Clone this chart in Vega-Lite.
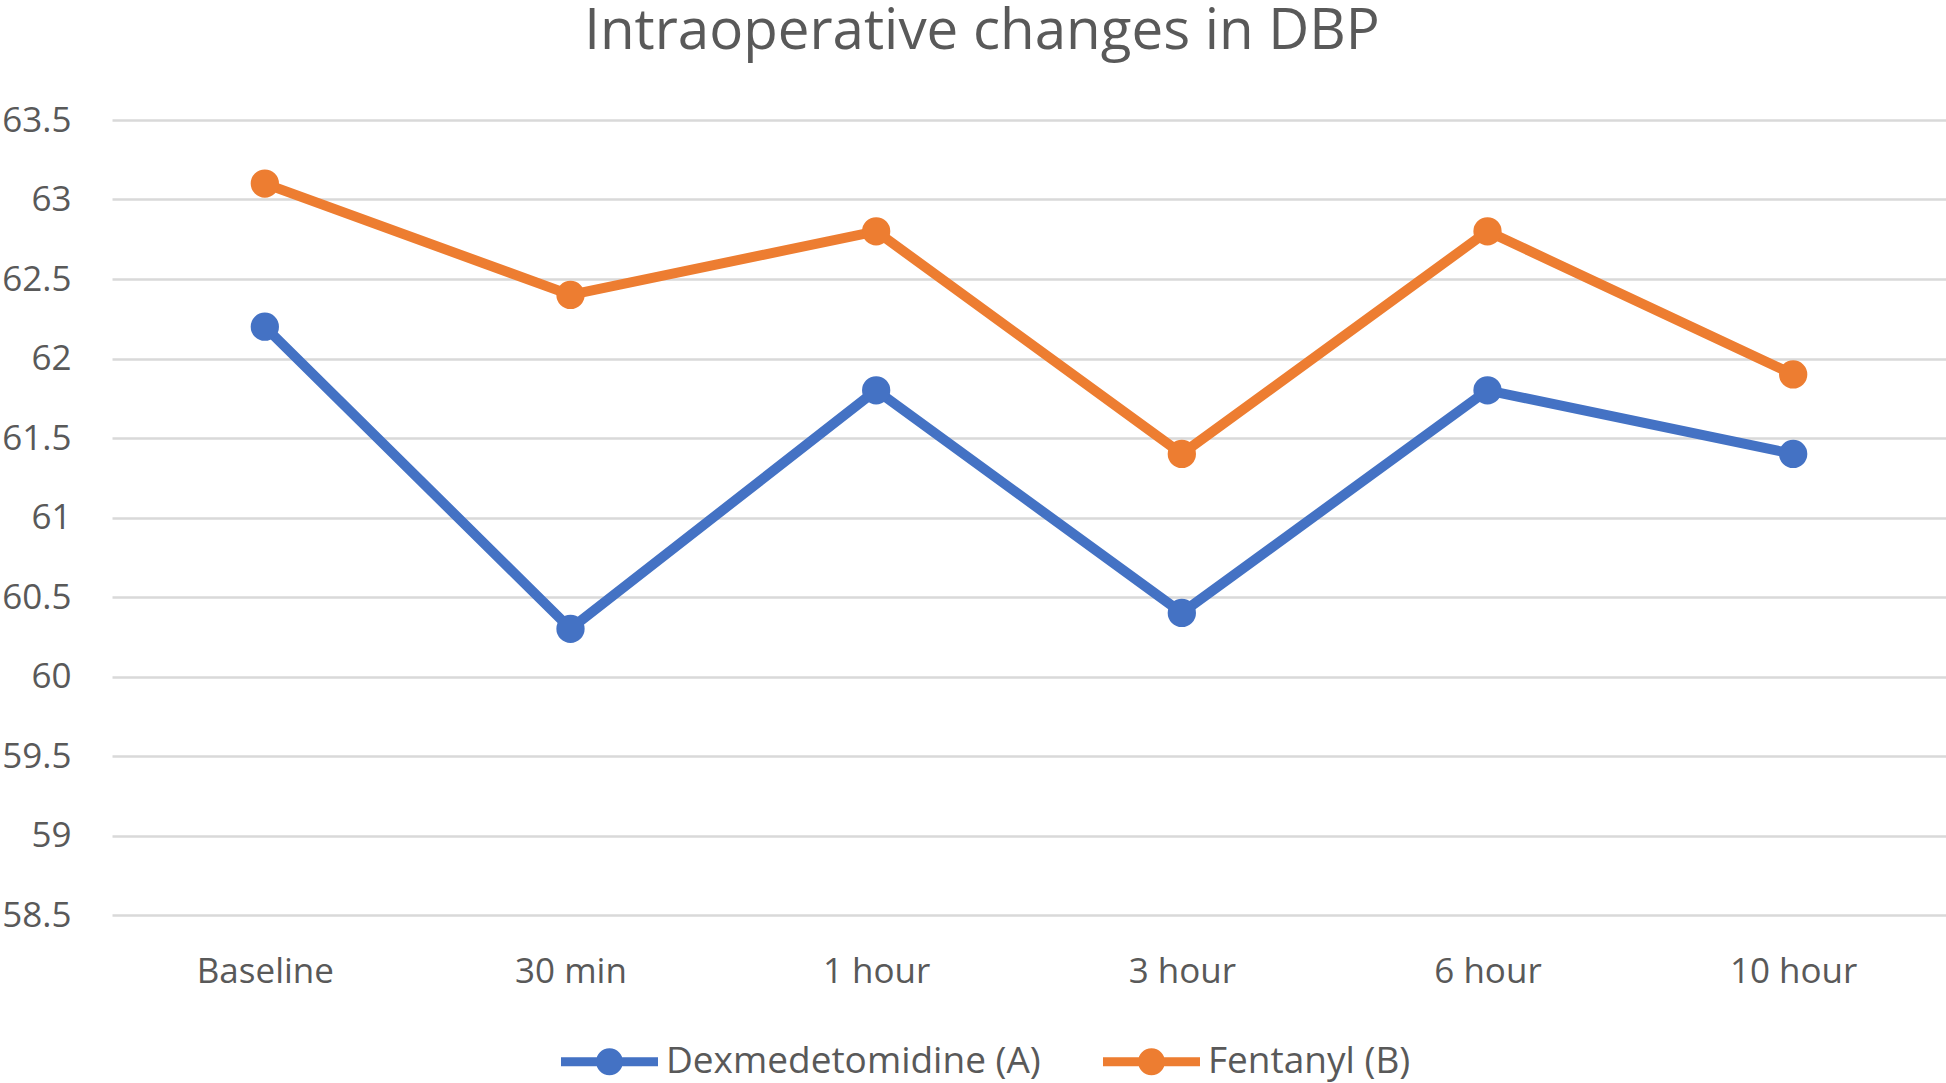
{
  "$schema": "https://vega.github.io/schema/vega-lite/v6.json",
  "width": 1834,
  "height": 795,
  "autosize": {"type": "none"},
  "padding": {"left": 112, "top": 120, "right": 0, "bottom": 168},
  "background": "white",
  "title": {
    "text": "Intraoperative changes in DBP",
    "font": "Open Sans",
    "fontSize": 56.5,
    "fontWeight": "normal",
    "color": "#595959",
    "anchor": "middle",
    "frame": "group",
    "dx": -47,
    "dy": 58,
    "baseline": "alphabetic",
    "offset": 56
  },
  "data": {
    "values": [
      {"time": "Baseline", "group": "Dexmedetomidine (A)", "dbp": 62.2},
      {"time": "30 min", "group": "Dexmedetomidine (A)", "dbp": 60.3},
      {"time": "1 hour", "group": "Dexmedetomidine (A)", "dbp": 61.8},
      {"time": "3 hour", "group": "Dexmedetomidine (A)", "dbp": 60.4},
      {"time": "6 hour", "group": "Dexmedetomidine (A)", "dbp": 61.8},
      {"time": "10 hour", "group": "Dexmedetomidine (A)", "dbp": 61.4},
      {"time": "Baseline", "group": "Fentanyl (B)", "dbp": 63.1},
      {"time": "30 min", "group": "Fentanyl (B)", "dbp": 62.4},
      {"time": "1 hour", "group": "Fentanyl (B)", "dbp": 62.8},
      {"time": "3 hour", "group": "Fentanyl (B)", "dbp": 61.4},
      {"time": "6 hour", "group": "Fentanyl (B)", "dbp": 62.8},
      {"time": "10 hour", "group": "Fentanyl (B)", "dbp": 61.9}
    ]
  },
  "encoding": {
    "x": {
      "field": "time",
      "type": "nominal",
      "sort": ["Baseline", "30 min", "1 hour", "3 hour", "6 hour", "10 hour"],
      "scale": {"type": "point", "padding": 0.5},
      "axis": {
        "title": null,
        "labelAngle": 0,
        "domain": false,
        "ticks": false,
        "tickSize": 0,
        "grid": false,
        "labelPadding": 39,
        "labelFont": "Open Sans",
        "labelFontSize": 35,
        "labelColor": "#595959"
      }
    },
    "y": {
      "field": "dbp",
      "type": "quantitative",
      "scale": {"domain": [58.5, 63.5], "nice": false, "zero": false},
      "axis": {
        "title": null,
        "values": [58.5, 59, 59.5, 60, 60.5, 61, 61.5, 62, 62.5, 63, 63.5],
        "format": "~g",
        "domain": false,
        "ticks": false,
        "tickSize": 0,
        "labelPadding": 41,
        "labelFont": "Open Sans",
        "labelFontSize": 35,
        "labelColor": "#595959",
        "grid": true,
        "gridColor": "#d9d9d9",
        "gridWidth": 2.5
      }
    },
    "color": {
      "field": "group",
      "type": "nominal",
      "scale": {"domain": ["Dexmedetomidine (A)", "Fentanyl (B)"], "range": ["#4472C4", "#ED7D31"]},
      "legend": {
        "title": null,
        "orient": "none",
        "direction": "horizontal",
        "legendX": 449,
        "legendY": 893,
        "symbolType": "M-1,-0.093 L-0.25,-0.093 L-0.25,0.093 L-1,0.093 Z M0.25,-0.093 L1,-0.093 L1,0.093 L0.25,0.093 Z M-0.278,0 A0.278,0.278 0 1,1 0.278,0 A0.278,0.278 0 1,1 -0.278,0 Z",
        "symbolSize": 9409,
        "symbolStrokeWidth": 0,
        "symbolOpacity": 1,
        "labelFont": "Open Sans",
        "labelFontSize": 37,
        "labelColor": "#595959",
        "labelOffset": 8,
        "labelLimit": 0,
        "columnPadding": 62
      }
    }
  },
  "layer": [
    {
      "mark": {"type": "line", "strokeWidth": 10, "strokeJoin": "round"}
    },
    {
      "mark": {"type": "point", "shape": "circle", "filled": true, "opacity": 1, "size": 800}
    }
  ],
  "config": {
    "view": {"stroke": null}
  }
}
